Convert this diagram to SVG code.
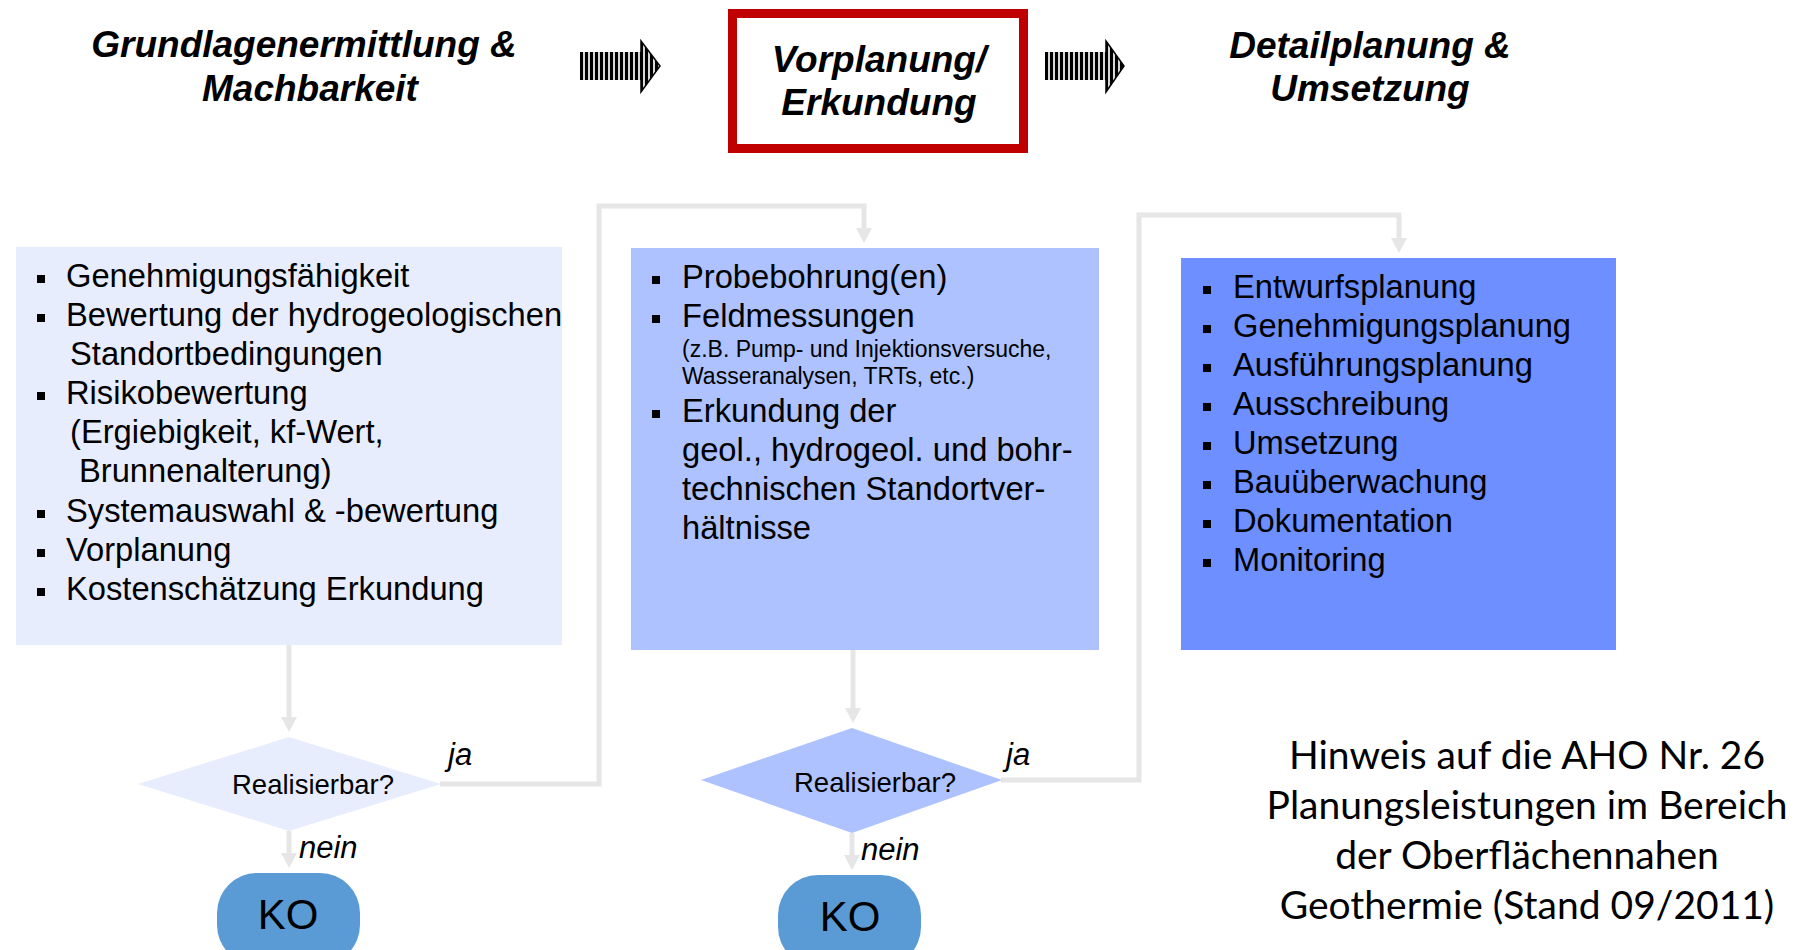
<svg xmlns="http://www.w3.org/2000/svg" width="1807" height="950" viewBox="0 0 1807 950">
<defs>
<style>
.title{font-family:"Liberation Sans",Arial,sans-serif;font-weight:bold;font-style:italic;font-size:37px;fill:#000;text-anchor:middle}
.body{font-family:"Liberation Sans",Arial,sans-serif;font-size:32.7px;fill:#000}
.small{font-family:"Liberation Sans",Arial,sans-serif;font-size:23px;fill:#000}
.dec{font-family:"Liberation Sans",Arial,sans-serif;font-size:27.5px;fill:#000;text-anchor:middle}
.lbl{font-family:"Liberation Sans",Arial,sans-serif;font-style:italic;font-size:31px;fill:#000}
.ko{font-family:"Liberation Sans",Arial,sans-serif;font-size:42px;fill:#000;text-anchor:middle}
.hint{font-family:Lato,"Liberation Sans",sans-serif;font-size:39px;fill:#000;text-anchor:middle}
.conn{fill:none;stroke:#E6E6E6;stroke-width:5}
.bul{fill:#000}
</style>
<pattern id="stripes" x="0" y="0" width="5" height="10" patternUnits="userSpaceOnUse">
<rect x="0" y="0" width="5" height="10" fill="#d8d8d8"/>
<rect x="0" y="0" width="3" height="10" fill="#000"/>
</pattern>
<marker id="ah" markerUnits="userSpaceOnUse" markerWidth="16" markerHeight="16" refX="10" refY="8" orient="auto">
<path d="M0,0 L15,8 L0,16 z" fill="#E6E6E6"/>
</marker>
</defs>
<rect width="1807" height="950" fill="#fff"/>

<g id="connectors">
<path class="conn" d="M289,645 V727" marker-end="url(#ah)"/>
<path class="conn" d="M440,784 H599 V206 H864 V238" marker-end="url(#ah)"/>
<path class="conn" d="M289,831 V863" marker-end="url(#ah)"/>
<path class="conn" d="M853,650 V718" marker-end="url(#ah)"/>
<path class="conn" d="M1001,780 H1139 V215 H1399 V248" marker-end="url(#ah)"/>
<path class="conn" d="M852,833 V865" marker-end="url(#ah)"/>
</g>

<g id="phase1">
<text class="title" x="304" y="57">Grundlagenermittlung &amp;</text>
<text class="title" x="310" y="101">Machbarkeit</text>
</g>
<g id="arrow1">
<rect x="580" y="52" width="62" height="28" fill="url(#stripes)"/>
<path d="M641,41 L660,66 L641,92 z" fill="url(#stripes)" stroke="#000" stroke-width="1.5"/>
</g>
<g id="phase2">
<rect x="732.5" y="13.5" width="291" height="135" fill="#fff" stroke="#C00000" stroke-width="9"/>
<text class="title" x="879" y="72">Vorplanung/</text>
<text class="title" x="879" y="115">Erkundung</text>
</g>
<g id="arrow2">
<rect x="1045" y="52" width="62" height="28" fill="url(#stripes)"/>
<path d="M1106,41 L1124,66 L1106,92 z" fill="url(#stripes)" stroke="#000" stroke-width="1.5"/>
</g>
<g id="phase3">
<text class="title" x="1370" y="58">Detailplanung &amp;</text>
<text class="title" x="1370" y="101">Umsetzung</text>
</g>

<g id="box1">
<rect x="16" y="247" width="546" height="398" fill="#E8EDFD"/>
<rect class="bul" x="37" y="275" width="8" height="8"/>
<text class="body" x="66" y="287">Genehmigungsfähigkeit</text>
<rect class="bul" x="37" y="314" width="8" height="8"/>
<text class="body" x="66" y="326">Bewertung der hydrogeologischen</text>
<text class="body" x="70" y="365">Standortbedingungen</text>
<rect class="bul" x="37" y="392" width="8" height="8"/>
<text class="body" x="66" y="404">Risikobewertung</text>
<text class="body" x="70" y="443">(Ergiebigkeit, kf-Wert,</text>
<text class="body" x="79" y="482">Brunnenalterung)</text>
<rect class="bul" x="37" y="510" width="8" height="8"/>
<text class="body" x="66" y="522">Systemauswahl &amp; -bewertung</text>
<rect class="bul" x="37" y="549" width="8" height="8"/>
<text class="body" x="66" y="561">Vorplanung</text>
<rect class="bul" x="37" y="588" width="8" height="8"/>
<text class="body" x="66" y="600">Kostenschätzung Erkundung</text>
</g>

<g id="box2">
<rect x="631" y="248" width="468" height="402" fill="#ADC2FF"/>
<rect class="bul" x="652" y="276" width="8" height="8"/>
<text class="body" x="682" y="288">Probebohrung(en)</text>
<rect class="bul" x="652" y="315" width="8" height="8"/>
<text class="body" x="682" y="327">Feldmessungen</text>
<text class="small" x="682" y="357">(z.B. Pump- und Injektionsversuche,</text>
<text class="small" x="682" y="384">Wasseranalysen, TRTs, etc.)</text>
<rect class="bul" x="652" y="410" width="8" height="8"/>
<text class="body" x="682" y="422">Erkundung der</text>
<text class="body" x="682" y="461">geol., hydrogeol. und bohr-</text>
<text class="body" x="682" y="500">technischen Standortver-</text>
<text class="body" x="682" y="539">hältnisse</text>
</g>

<g id="box3">
<rect x="1181" y="258" width="435" height="392" fill="#6E8FFF"/>
<rect class="bul" x="1203" y="286" width="8" height="8"/>
<text class="body" x="1233" y="298">Entwurfsplanung</text>
<rect class="bul" x="1203" y="325" width="8" height="8"/>
<text class="body" x="1233" y="337">Genehmigungsplanung</text>
<rect class="bul" x="1203" y="364" width="8" height="8"/>
<text class="body" x="1233" y="376">Ausführungsplanung</text>
<rect class="bul" x="1203" y="403" width="8" height="8"/>
<text class="body" x="1233" y="415">Ausschreibung</text>
<rect class="bul" x="1203" y="442" width="8" height="8"/>
<text class="body" x="1233" y="454">Umsetzung</text>
<rect class="bul" x="1203" y="481" width="8" height="8"/>
<text class="body" x="1233" y="493">Bauüberwachung</text>
<rect class="bul" x="1203" y="520" width="8" height="8"/>
<text class="body" x="1233" y="532">Dokumentation</text>
<rect class="bul" x="1203" y="559" width="8" height="8"/>
<text class="body" x="1233" y="571">Monitoring</text>
</g>

<g id="decision1">
<polygon points="289,737 441,784 289,831 138,784" fill="#E8EDFD"/>
<text class="dec" x="313" y="794">Realisierbar?</text>
</g>
<g id="decision2">
<polygon points="852,728 1002,780 852,833 701,780" fill="#ADC2FF"/>
<text class="dec" x="875" y="792">Realisierbar?</text>
</g>
<g id="labels">
<text class="lbl" x="448" y="765">ja</text>
<text class="lbl" x="299" y="858">nein</text>
<text class="lbl" x="1006" y="765">ja</text>
<text class="lbl" x="861" y="860">nein</text>
</g>
<g id="ko1">
<rect x="217" y="873" width="143" height="92" rx="40" ry="40" fill="#5B9BD5"/>
<text class="ko" x="288" y="929">KO</text>
</g>
<g id="ko2">
<rect x="778" y="875" width="143" height="92" rx="40" ry="40" fill="#5B9BD5"/>
<text class="ko" x="850" y="931">KO</text>
</g>
<g id="hint">
<text class="hint" x="1527" y="769">Hinweis auf die AHO Nr. 26</text>
<text class="hint" x="1527" y="819">Planungsleistungen im Bereich</text>
<text class="hint" x="1527" y="869">der Oberflächennahen</text>
<text class="hint" x="1527" y="919">Geothermie (Stand 09/2011)</text>
</g>
</svg>
